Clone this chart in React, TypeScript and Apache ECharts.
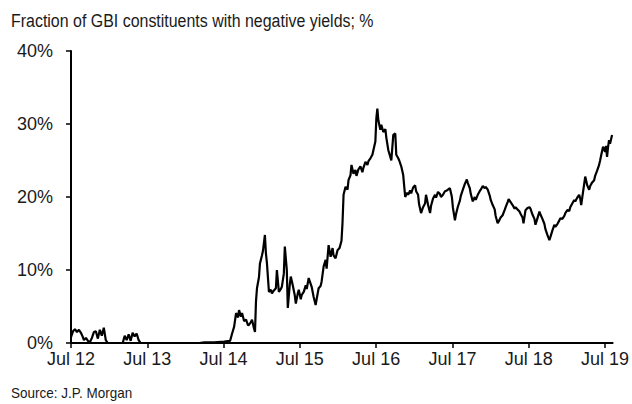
import React, { useEffect, useRef } from "react";
import * as echarts from "echarts";

// x: decimal year (2012.5 = Jul 2012); y: % of GBI constituents with negative yields
const years = [
  2012.5, 2012.526, 2012.552, 2012.578, 2012.604, 2012.63, 2012.656, 2012.669, 2012.696, 2012.722,
  2012.748, 2012.774, 2012.8, 2012.826, 2012.852, 2012.878, 2012.904, 2012.93, 2012.956, 2012.982,
  2013.178, 2013.204, 2013.23, 2013.256, 2013.282, 2013.308, 2013.334, 2013.36, 2013.387, 2013.413,
  2014.182, 2014.247, 2014.377, 2014.508, 2014.586, 2014.612, 2014.638, 2014.664, 2014.69, 2014.703,
  2014.729, 2014.742, 2014.769, 2014.795, 2014.821, 2014.834, 2014.86, 2014.873, 2014.899, 2014.912,
  2014.925, 2014.938, 2014.964, 2014.977, 2015.003, 2015.016, 2015.042, 2015.055, 2015.068, 2015.095,
  2015.121, 2015.134, 2015.16, 2015.186, 2015.199, 2015.225, 2015.251, 2015.264, 2015.29, 2015.303,
  2015.329, 2015.342, 2015.368, 2015.381, 2015.407, 2015.434, 2015.447, 2015.473, 2015.486, 2015.512,
  2015.525, 2015.551, 2015.577, 2015.59, 2015.616, 2015.655, 2015.681, 2015.707, 2015.72, 2015.746,
  2015.772, 2015.785, 2015.812, 2015.838, 2015.851, 2015.877, 2015.903, 2015.929, 2015.942, 2015.968,
  2015.994, 2016.02, 2016.046, 2016.059, 2016.073, 2016.099, 2016.125, 2016.138, 2016.164, 2016.177,
  2016.203, 2016.229, 2016.242, 2016.268, 2016.294, 2016.32, 2016.333, 2016.36, 2016.386, 2016.399,
  2016.425, 2016.451, 2016.464, 2016.49, 2016.503, 2016.516, 2016.529, 2016.555, 2016.568, 2016.594,
  2016.621, 2016.634, 2016.66, 2016.686, 2016.699, 2016.725, 2016.751, 2016.764, 2016.79, 2016.803,
  2016.829, 2016.855, 2016.868, 2016.881, 2016.907, 2016.92, 2016.946, 2016.959, 2016.985, 2017.011,
  2017.024, 2017.05, 2017.063, 2017.089, 2017.115, 2017.141, 2017.154, 2017.181, 2017.207, 2017.22,
  2017.246, 2017.272, 2017.285, 2017.311, 2017.337, 2017.35, 2017.376, 2017.402, 2017.428, 2017.441,
  2017.467, 2017.493, 2017.507, 2017.533, 2017.546, 2017.572, 2017.598, 2017.611, 2017.637, 2017.663,
  2017.689, 2017.702, 2017.728, 2017.741, 2017.767, 2017.793, 2017.806, 2017.832, 2017.858, 2017.871,
  2017.898, 2017.924, 2017.937, 2017.963, 2017.989, 2018.002, 2018.028, 2018.054, 2018.067, 2018.093,
  2018.119, 2018.132, 2018.158, 2018.184, 2018.198, 2018.224, 2018.237, 2018.263, 2018.289, 2018.315,
  2018.328, 2018.354, 2018.38, 2018.393, 2018.419, 2018.432, 2018.458, 2018.484, 2018.51, 2018.523,
  2018.549, 2018.575, 2018.589, 2018.615, 2018.641, 2018.654, 2018.68, 2018.706, 2018.719, 2018.745,
  2018.771, 2018.784, 2018.81, 2018.836, 2018.849, 2018.876, 2018.902, 2018.915, 2018.941, 2018.967,
  2018.98, 2019.006, 2019.032, 2019.045, 2019.071, 2019.097, 2019.11, 2019.136, 2019.162, 2019.175,
  2019.188, 2019.214, 2019.241, 2019.267, 2019.293, 2019.306, 2019.332, 2019.358, 2019.371, 2019.397,
  2019.423, 2019.436, 2019.462, 2019.475, 2019.501, 2019.514, 2019.527, 2019.54, 2019.553, 2019.566,
  2019.593,
];

const negativeShare = [
  0.8, 1.6, 1.9, 1.5, 1.8, 1.4, 0.8, 0.4, 0.7, 0.3,
  0.1, 0.7, 1.5, 1.6, 0.6, 1.8, 1.0, 2.1, 0.4, 0.0,
  0.0, 1.0, 0.4, 1.2, 0.3, 1.4, 0.9, 1.3, 0.4, 0.0,
  0.0, 0.1, 0.1, 0.2, 0.3, 1.3, 2.2, 4.1, 3.5, 4.5,
  3.6, 4.1, 3.0, 3.2, 2.4, 2.5, 2.9, 3.2, 2.0, 1.5,
  5.7, 7.5, 9.0, 10.9, 12.0, 12.6, 14.8, 12.3, 11.0, 7.0,
  7.3, 6.8, 7.2, 7.5, 10.0, 7.0, 7.4, 7.7, 9.5, 13.2,
  10.0, 4.8, 8.0, 9.1, 7.9, 6.5, 5.4, 6.8, 7.3, 6.0,
  6.6, 7.0, 7.9, 7.4, 8.9, 7.7, 6.3, 5.2, 6.0, 7.5,
  7.8, 8.4, 10.5, 11.4, 10.2, 13.4, 11.8, 13.0, 12.0, 11.6,
  12.7, 13.0, 14.0, 16.4, 20.3, 21.4, 21.0, 22.3, 23.0, 24.4,
  23.2, 23.7, 22.9, 23.8, 24.2, 23.4, 24.0, 24.8, 24.4, 24.9,
  25.3, 25.8, 26.4, 27.6, 30.8, 32.1, 30.5, 29.2, 29.9, 28.9,
  29.3, 28.1, 26.4, 25.5, 25.0, 28.5, 28.7, 25.8, 25.3, 25.0,
  24.2, 23.0, 21.5, 20.0, 20.6, 20.3, 20.9, 20.5, 21.3, 21.6,
  20.8, 20.3, 19.0, 17.8, 18.6, 19.1, 20.3, 18.9, 17.8, 18.8,
  19.8, 20.3, 19.9, 20.7, 20.4, 20.0, 20.3, 20.8, 20.9, 21.0,
  21.2, 20.0, 18.5, 16.8, 17.6, 18.7, 19.5, 20.2, 21.0, 21.8,
  22.4, 21.9, 21.2, 20.4, 19.4, 20.0, 19.6, 20.3, 20.8, 21.0,
  21.5, 21.2, 21.4, 21.0, 20.2, 19.6, 18.9, 18.3, 17.4, 16.4,
  16.9, 17.2, 17.5, 18.2, 18.6, 19.3, 19.7, 19.3, 18.9, 18.4,
  18.6, 18.3, 18.0, 17.7, 17.2, 16.4, 18.2, 18.5, 18.6, 18.4,
  17.6, 17.0, 16.2, 17.1, 18.0, 17.6, 17.0, 16.3, 15.6, 14.8,
  14.1, 14.5, 15.4, 16.2, 15.9, 16.3, 16.8, 17.1, 17.0, 17.4,
  17.8, 18.2, 18.1, 18.6, 19.1, 19.6, 19.4, 19.9, 20.3, 19.8,
  18.9, 20.8, 22.8, 21.6, 21.0, 21.5, 22.0, 22.3, 22.9, 23.6,
  24.4, 25.0, 26.3, 26.9, 26.2, 27.0, 25.5, 26.8, 27.8, 27.3,
  28.5,
];

const xTickYears = [2012.5, 2013.5, 2014.5, 2015.5, 2016.5, 2017.5, 2018.5, 2019.5];
const xTickLabels = ["Jul 12", "Jul 13", "Jul 14", "Jul 15", "Jul 16", "Jul 17", "Jul 18", "Jul 19"];
const yTicks = [0, 10, 20, 30, 40];

const FONT = "'Liberation Sans', Arial, sans-serif";

export default function App() {
  const ref = useRef<HTMLDivElement>(null);
  useEffect(() => {
    document.body.style.margin = "0";
    if (!ref.current) return;
    const chart = echarts.init(ref.current, null, { renderer: "svg" });
    const data = years.map((y, i) => [y, negativeShare[i]]);
    chart.setOption({
      animation: false,
      backgroundColor: "#ffffff",
      textStyle: { fontFamily: FONT },
      graphic: [
        {
          type: "text",
          x: 11,
          y: 11,
          scaleX: 0.84,
          style: {
            text: "Fraction of GBI constituents with negative yields; %",
            fontFamily: FONT,
            fontSize: 19,
            fill: "#1a1a1a",
          },
        },
        {
          type: "text",
          x: 11,
          y: 385,
          scaleX: 0.9,
          style: {
            text: "Source: J.P. Morgan",
            fontFamily: FONT,
            fontSize: 15,
            fill: "#1a1a1a",
          },
        },
      ],
      grid: { left: 71, right: 17, top: 51, bottom: 61, containLabel: false },
      xAxis: {
        type: "value",
        min: 2012.5,
        max: 2019.6,
        splitLine: { show: false },
        axisLine: { show: true, lineStyle: { color: "#000", width: 2 } },
        axisTick: {
          show: true,
          length: 5,
          lineStyle: { color: "#000", width: 1.5 },
          customValues: xTickYears,
        },
        axisLabel: {
          customValues: xTickYears,
          formatter: (v: number) => {
            const i = xTickYears.findIndex((t) => Math.abs(t - v) < 1e-6);
            return i >= 0 ? xTickLabels[i] : "";
          },
          color: "#1a1a1a",
          fontSize: 18,
          fontFamily: FONT,
          margin: 7,
        },
      },
      yAxis: {
        type: "value",
        min: 0,
        max: 40,
        interval: 10,
        splitLine: { show: false },
        axisLine: { show: true, lineStyle: { color: "#000", width: 2 } },
        axisTick: { show: true, length: 5, lineStyle: { color: "#000", width: 1.5 } },
        axisLabel: {
          formatter: (v: number) => (yTicks.includes(v) ? v + "%" : ""),
          color: "#1a1a1a",
          fontSize: 18,
          fontFamily: FONT,
          margin: 18,
        },
      },
      series: [
        {
          type: "line",
          data,
          showSymbol: false,
          symbol: "none",
          lineStyle: { color: "#000", width: 2.2 },
          z: 3,
        },
      ],
    });
    return () => chart.dispose();
  }, []);
  return <div ref={ref} style={{ width: 632, height: 404 }} />;
}
